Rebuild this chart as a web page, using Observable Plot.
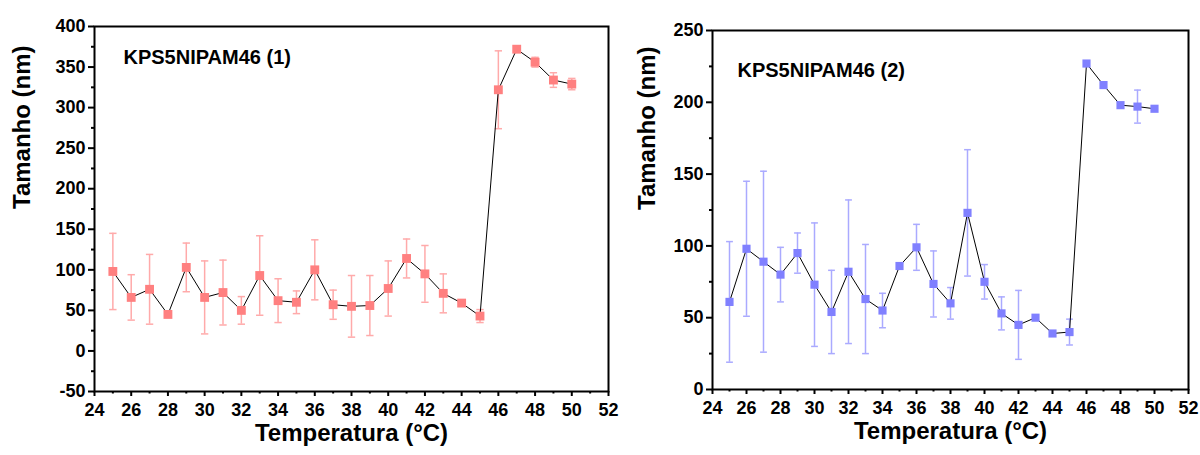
<!DOCTYPE html>
<html><head><meta charset="utf-8">
<script src="https://cdn.jsdelivr.net/npm/d3@7"></script>
<script src="https://cdn.jsdelivr.net/npm/@observablehq/plot@0.6"></script>
<style>
body{margin:0;background:#fff;width:1200px;height:455px;overflow:hidden;position:relative;font-family:"Liberation Sans",Arial,sans-serif;}
#p1{position:absolute;left:0;top:0}
#p2{position:absolute;left:625px;top:0}
svg text{font-weight:bold;}
</style></head><body>
<div id="p1"></div><div id="p2"></div>
<script>
const temperature = [25,26,27,28,29,30,31,32,33,34,35,36,37,38,39,40,41,42,43,44,45,46,47,48,49,50];
const size1 = [98,66,76,45,103,66,72,50,93,62,60,100,57,55,56,77,114,95,71,59,43,322,372,356,334,329];
const err1  = [47,28,43,0,30,45,40,17,49,27,14,37,18,38,37,34,24,35,24,0,8,48,0,6,9,7];
const size2 = [61,98,89,80,95,73,54,82,63,55,86,99,73.5,60,123,75,53,45,50,39,40,227,212,198,197,195.5];
const err2  = [42,47,63,19,14,43,29,50,38,12,0,16,23,11,44,12,11.5,24,0,0,9,0,0,0,11.5,0];
const xMajor = [24,26,28,30,32,34,36,38,40,42,44,46,48,50,52];
const xMinor = [25,27,29,31,33,35,37,39,41,43,45,47,49,51];
const yMajor1 = [-50,0,50,100,150,200,250,300,350,400];
const yMinor1 = [-25,25,75,125,175,225,275,325,375];
const yMajor2 = [0,50,100,150,200,250];
const yMinor2 = [25,75,125,175,225];
const title1 = "KPS5NIPAM46 (1)";
const title2 = "KPS5NIPAM46 (2)";
const xLabel = "Temperatura (°C)";
const yLabel = "Tamanho (nm)";

function panel(o) {
  const data = temperature.map((t, i) => ({t, v: o.sizes[i], e: o.errs[i]}));
  const bars = data.filter(d => d.e > 0);
  const cap = 0.2;
  const barStyle = {stroke: o.barColor, strokeWidth: 1.5};
  return Plot.plot({
    width: o.width, height: 455,
    marginLeft: o.ml, marginRight: 12, marginTop: o.mt, marginBottom: o.mb,
    style: {fontFamily: "'Liberation Sans', Arial, sans-serif", fontWeight: "bold", background: "white", color: "black"},
    x: {domain: [24, 52]},
    y: {domain: o.yDomain},
    marks: [
      Plot.ruleX(bars, {x: "t", y1: d => d.v - d.e, y2: d => d.v + d.e, ...barStyle}),
      Plot.link(bars, {x1: d => d.t - cap, x2: d => d.t + cap, y1: d => d.v + d.e, y2: d => d.v + d.e, ...barStyle}),
      Plot.link(bars, {x1: d => d.t - cap, x2: d => d.t + cap, y1: d => d.v - d.e, y2: d => d.v - d.e, ...barStyle}),
      Plot.line(data, {x: "t", y: "v", stroke: "black", strokeWidth: 1}),
      Plot.dot(data, {x: "t", y: "v", symbol: "square", r: o.r, fill: o.color}),
      Plot.axisX({ticks: xMajor, tickSize: 5, tickPadding: 7, fontSize: 18, fontWeight: "bold", strokeWidth: 2, label: null, tickFormat: d => String(d)}),
      Plot.axisX({ticks: xMinor, tickSize: 2.5, strokeWidth: 2, text: null, label: null}),
      Plot.axisY({ticks: o.yMajor, tickSize: 6, tickPadding: 3, fontSize: 18, fontWeight: "bold", strokeWidth: 2, label: null, tickFormat: d => String(d)}),
      Plot.axisY({ticks: o.yMinor, tickSize: 3, strokeWidth: 2, text: null, label: null}),
      Plot.frame({stroke: "black", strokeWidth: 2}),
      Plot.text([o.title], {frameAnchor: "top-left", dx: o.tdx, dy: o.tdy, fontSize: 20, fontWeight: "bold", textAnchor: "start", fill: "black"}),
      Plot.text([xLabel], {frameAnchor: "bottom", dy: 49, fontSize: 24, fontWeight: "bold", fill: "black"}),
      Plot.text([yLabel], {frameAnchor: "left", dx: o.ydx, rotate: -90, fontSize: 24, fontWeight: "bold", fill: "black"})
    ]
  });
}

document.getElementById("p1").append(panel({
  sizes: size1, errs: err1, color: "#ff8080", barColor: "#ffaaaa", r: 5,
  yDomain: [-50, 400], yMajor: yMajor1, yMinor: yMinor1,
  width: 620, ml: 94, mt: 26, mb: 64, title: title1, tdx: 29, tdy: 23, ydx: -72
}));
document.getElementById("p2").append(panel({
  sizes: size2, errs: err2, color: "#8080ff", barColor: "#aaaaff", r: 4.6,
  yDomain: [0, 250], yMajor: yMajor2, yMinor: yMinor2,
  width: 575, ml: 87, mt: 30, mb: 66, title: title2, tdx: 25, tdy: 32, ydx: -65
}));
</script>
</body></html>
